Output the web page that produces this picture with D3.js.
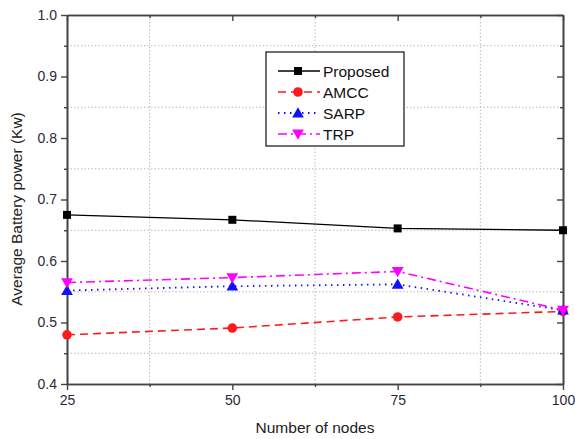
<!DOCTYPE html>
<html><head><meta charset="utf-8">
<script src="https://cdn.jsdelivr.net/npm/d3@7"></script>
<style>body{margin:0;background:#fff}svg{display:block}</style>
</head><body><svg id="c" width="575" height="439"></svg>
<script>
const nodes = [25, 50, 75, 100];
const proposed = [0.675, 0.667, 0.653, 0.650];
const amcc = [0.480, 0.491, 0.509, 0.518];
const sarp = [0.552, 0.559, 0.562, 0.520];
const trp = [0.565, 0.573, 0.583, 0.520];
const seriesNames = ["Proposed", "AMCC", "SARP", "TRP"];
const xTicks = [25, 50, 75, 100];
const yTicks = [0.4, 0.5, 0.6, 0.7, 0.8, 0.9, 1.0];
const xMinor = [37.5, 62.5, 87.5];
const yMinor = [0.45, 0.55, 0.65, 0.75, 0.85, 0.95];

const svg = d3.select("#c");
const L = 67, R = 563, T = 15, B = 384;
const x = d3.scaleLinear().domain([25, 100]).range([L, R]);
const y = d3.scaleLinear().domain([0.4, 1.0]).range([B, T]);
const axisCol = "#444";
const txtCol = "#2a2a3a";
const FF = "Liberation Sans, Arial, sans-serif";

const g = svg.append("g");
g.selectAll(".gx").data(xMinor).enter().append("line")
  .attr("x1", d => x(d)).attr("x2", d => x(d)).attr("y1", T).attr("y2", B)
  .attr("stroke", "#bbb").attr("stroke-width", 1).attr("stroke-dasharray", "1.5,2");
g.selectAll(".gy").data(yMinor).enter().append("line")
  .attr("y1", d => y(d)).attr("y2", d => y(d)).attr("x1", L).attr("x2", R)
  .attr("stroke", "#bbb").attr("stroke-width", 1).attr("stroke-dasharray", "1.5,2");

const fmtY = d3.format(".1f");
const ax = (axis, tr) => {
  const a = svg.append("g").attr("transform", tr).call(axis);
  a.select(".domain").attr("stroke", axisCol).attr("stroke-width", 1.6);
  a.selectAll(".tick line").attr("stroke", axisCol).attr("stroke-width", 1.4);
  a.selectAll("text").attr("fill", txtCol).style("font-family", FF).style("font-size", "14px");
  return a;
};
ax(d3.axisBottom(x).tickValues(xTicks).tickSize(6).tickPadding(5).tickSizeOuter(0), `translate(0,${B})`);
ax(d3.axisBottom(x).tickValues(xMinor).tickSize(3).tickFormat("").tickSizeOuter(0), `translate(0,${B})`);
ax(d3.axisLeft(y).tickValues(yTicks).tickFormat(fmtY).tickSize(6).tickPadding(4).tickSizeOuter(0), `translate(${L},0)`);
ax(d3.axisLeft(y).tickValues(yMinor).tickSize(3).tickFormat("").tickSizeOuter(0), `translate(${L},0)`);
ax(d3.axisTop(x).tickValues(xTicks).tickSize(-6).tickFormat("").tickSizeOuter(0), `translate(0,${T})`);
ax(d3.axisTop(x).tickValues(xMinor).tickSize(-3).tickFormat("").tickSizeOuter(0), `translate(0,${T})`);
ax(d3.axisRight(y).tickValues(yTicks).tickSize(-6).tickFormat("").tickSizeOuter(0), `translate(${R},0)`);
ax(d3.axisRight(y).tickValues(yMinor).tickSize(-3).tickFormat("").tickSizeOuter(0), `translate(${R},0)`);

svg.append("text").attr("x", (L + R) / 2).attr("y", 433).attr("text-anchor", "middle")
  .attr("fill", "#222").style("font-family", FF).style("font-size", "15.5px")
  .text("Number of nodes");
svg.append("text").attr("transform", `translate(22,209) rotate(-90)`).attr("text-anchor", "middle")
  .attr("fill", "#222").style("font-family", FF).style("font-size", "15.5px")
  .text("Average Battery power (Kw)");

const styles = [
  {vals: proposed, color: "#000", dash: null, w: 1.3, sym: d3.symbolSquare, size: 64, rot: 0},
  {vals: amcc, color: "#ff1a1a", dash: "8,5", w: 1.6, sym: d3.symbolCircle, size: 72, rot: 0},
  {vals: sarp, color: "#1010ff", dash: "1.5,4.5", w: 1.8, sym: d3.symbolTriangle, size: 60, rot: 0},
  {vals: trp, color: "#ff00ff", dash: "9,4,2,4", w: 1.6, sym: d3.symbolTriangle, size: 60, rot: 180},
];
const line = d3.line().x((d, i) => x(nodes[i])).y(d => y(d));
styles.forEach(s => {
  svg.append("path").datum(s.vals).attr("d", line).attr("fill", "none")
    .attr("stroke", s.color).attr("stroke-width", s.w).attr("stroke-dasharray", s.dash);
});
styles.forEach(s => {
  svg.selectAll(null).data(s.vals).enter().append("path")
    .attr("d", d3.symbol().type(s.sym).size(s.size))
    .attr("transform", (d, i) => `translate(${x(nodes[i])},${y(d) + (s.sym === d3.symbolTriangle ? (s.rot ? -1 : 1) : 0)}) rotate(${s.rot})`)
    .attr("fill", s.color);
});

const lg = svg.append("g");
lg.append("rect").attr("x", 266).attr("y", 52).attr("width", 138).attr("height", 94)
  .attr("fill", "#fff").attr("stroke", "#222").attr("stroke-width", 1.3);
styles.forEach((s, i) => {
  const yy = 71 + i * 21;
  lg.append("line").attr("x1", 278).attr("x2", 320).attr("y1", yy).attr("y2", yy)
    .attr("stroke", s.color).attr("stroke-width", s.w).attr("stroke-dasharray", s.dash);
  lg.append("path").attr("d", d3.symbol().type(s.sym).size(s.size))
    .attr("transform", `translate(298,${yy + (s.sym === d3.symbolTriangle ? (s.rot ? -1 : 1) : 0)}) rotate(${s.rot})`)
    .attr("fill", s.color);
  lg.append("text").attr("x", 323).attr("y", yy + 5.5).attr("fill", "#111")
    .style("font-family", FF).style("font-size", "15.5px")
    .text(seriesNames[i]);
});
</script></body></html>
